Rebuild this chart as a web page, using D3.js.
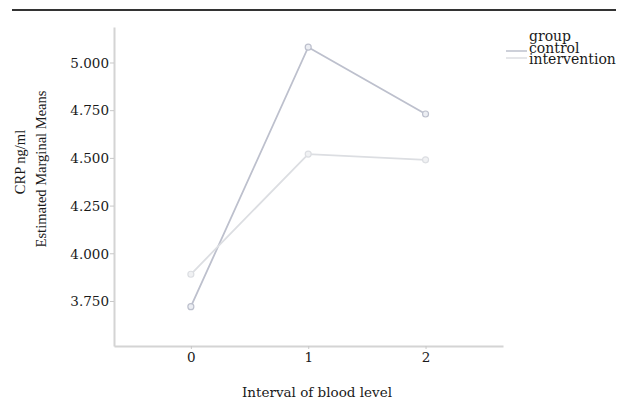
<!DOCTYPE html>
<html><head><meta charset="utf-8">
<script src="https://cdn.jsdelivr.net/npm/d3@7"></script>
<style>body{margin:0;background:#fff}svg{display:block}</style>
</head><body>
<svg id="c" width="627" height="401"></svg>
<script>
const intervals = [0, 1, 2];
const xTickLabels = ["0", "1", "2"];
const yTicks = [3.75, 4.0, 4.25, 4.5, 4.75, 5.0];
const controlValues = [3.72, 5.08, 4.73];
const interventionValues = [3.89, 4.52, 4.49];
const groups = ["control", "intervention"];
const legendTitle = "group";
const xTitle = "Interval of blood level";
const yTitle1 = "CRP ng/ml";
const yTitle2 = "Estimated Marginal Means";

const svg = d3.select("#c");
const x = d3.scaleLinear().domain([-0.655, 2.66]).range([114, 503]);
const y = d3.scaleLinear().domain([3.514, 5.186]).range([346, 27]);

// top rule
svg.append("line").attr("x1", 12).attr("x2", 616).attr("y1", 10).attr("y2", 10)
  .attr("stroke", "#333").attr("stroke-width", 2);

// axes
const yAxis = d3.axisLeft(y).tickValues(yTicks).tickFormat(d3.format(".3f")).tickSize(4).tickSizeOuter(0);
const gy = svg.append("g").attr("transform", "translate(114,0)").call(yAxis);
const xAxis = d3.axisBottom(x).tickValues(intervals).tickFormat((d, i) => xTickLabels[i]).tickSize(3).tickSizeOuter(0);
const gx = svg.append("g").attr("transform", "translate(0,346)").call(xAxis);
[gx, gy].forEach(g => {
  g.select(".domain").attr("stroke", "#d4d4d4").attr("stroke-width", 2);
  g.selectAll(".tick line").attr("stroke", "#c8c8c8");
  g.selectAll("text").attr("fill", "#1a1a1a").style("font-family", "DejaVu Serif").style("font-size", "13.5px");
});
gy.selectAll("text").attr("x", -5).attr("dy", "0.35em");
gx.selectAll("text").attr("y", 6);

// lines
const colors = {control: "#bdc0cd", intervention: "#dcdee2"};
const series = [
  {name: "control", values: controlValues},
  {name: "intervention", values: interventionValues}
];
const line = d3.line().x((d, i) => x(intervals[i])).y(d => y(d));
series.forEach(s => {
  svg.append("path").datum(s.values).attr("d", line).attr("fill", "none")
    .attr("stroke", colors[s.name]).attr("stroke-width", 1.8);
  svg.selectAll(null).data(s.values).enter().append("circle")
    .attr("cx", (d, i) => x(intervals[i])).attr("cy", d => y(d)).attr("r", 3)
    .attr("fill", s.name === "control" ? "#eceef3" : "#f0f1f3")
    .attr("stroke", colors[s.name]).attr("stroke-width", 1.2);
});

// axis titles
svg.append("text").attr("x", 317).attr("y", 397).attr("text-anchor", "middle")
  .style("font-family", "DejaVu Serif").style("font-size", "13.5px").attr("fill", "#1a1a1a").text(xTitle);
svg.append("text").attr("transform", "translate(25,162) rotate(-90)").attr("text-anchor", "middle")
  .style("font-family", "Liberation Serif").style("font-size", "14.5px").attr("fill", "#1a1a1a").text(yTitle1);
svg.append("text").attr("transform", "translate(46,169) rotate(-90)").attr("text-anchor", "middle")
  .style("font-family", "Liberation Serif").style("font-size", "14.5px").attr("fill", "#1a1a1a").text(yTitle2);

// legend
const lg = svg.append("g");
lg.append("text").attr("x", 529).attr("y", 41).text(legendTitle)
  .style("font-family", "DejaVu Serif").style("font-size", "14px").attr("fill", "#1a1a1a");
groups.forEach((g, i) => {
  lg.append("line").attr("x1", 506).attr("x2", 527).attr("y1", 51 + i * 7).attr("y2", 51 + i * 7)
    .attr("stroke", colors[g]).attr("stroke-width", 1.5);
  lg.append("text").attr("x", 529).attr("y", 52.5 + i * 11.5).text(g)
    .style("font-family", "DejaVu Serif").style("font-size", "14px").attr("fill", "#1a1a1a");
});
</script>
</body></html>
